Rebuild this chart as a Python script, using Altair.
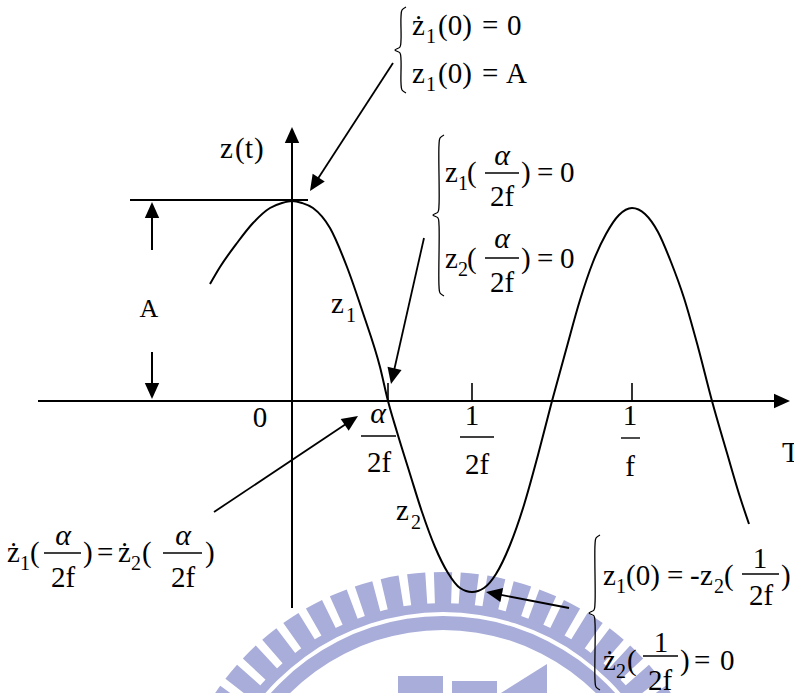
import math
import altair as alt
import pandas as pd

# z(t); t to the right, z upward,
# origin where the two axes cross (A is about 200 units)
curve_t = [-82, -72, -55, -39, -22, -10, 0, 10, 21, 38, 55, 71, 88, 96,
           105, 118, 130, 143, 156, 168, 180, 192, 204, 218, 232, 246, 260,
           274, 288, 301, 314, 327, 340, 353, 366, 379, 392, 406, 420, 435, 448, 457]
curve_z = [117, 134, 158, 178, 193, 198, 200, 198, 193, 173, 134, 88, 34, 0,
           -31, -73, -111, -146, -172, -187, -191, -187, -173, -144, -104, -54, 0,
           51, 101, 139, 167, 186, 193, 187, 169, 139, 103, 54, 0, -52, -96, -123]

# marked instants on the T axis: alpha/2f, 1/2f, 1/f
tick_t = [96, 180, 340]
amplitude = 200

FONT = "Liberation Serif, DejaVu Serif, serif"
MAIN, SUB, GREEK = 29, 20, 30
INK = "black"
WM = "#a9add9"

# sheet layout (x right, y down from the top-left corner) -> drawing units
X0, Y0 = 292, 401


def at(x, y):
    return x - X0, Y0 - y


XS = alt.Scale(domain=[-292, 502], nice=False, zero=False)
YS = alt.Scale(domain=[-292, 401], nice=False, zero=False)


def xy(tf="t", zf="z"):
    return dict(x=alt.X(f"{tf}:Q", scale=XS, axis=None),
                y=alt.Y(f"{zf}:Q", scale=YS, axis=None))


# ---------------- university seal in the background ----------------
cx, cy = at(443, 847)
arcs = []
for k in range(-12, 13):
    c = math.radians(k * 5.6)
    a0, a1 = c - math.radians(1.9), c + math.radians(1.9)
    if a0 < 0:
        a0 += 2 * math.pi
        a1 += 2 * math.pi
    arcs.append(dict(t=cx, z=cy, th=a0, th2=a1, r=275, r2=243))
span = math.radians(72)
arcs.append(dict(t=cx, z=cy, th=2 * math.pi - span, th2=2 * math.pi + span, r=244, r2=235))
arcs.append(dict(t=cx, z=cy, th=2 * math.pi - span, th2=2 * math.pi + span, r=231, r2=217))
arc_df = pd.DataFrame(arcs)

seal_ring = alt.Chart(arc_df).mark_arc(color=WM).encode(
    **xy(),
    theta=alt.Theta("th:Q", scale=None, stack=None), theta2="th2:Q",
    radius=alt.Radius("r:Q", scale=None), radius2="r2:Q",
)

blocks = []
for x1, y1, x2, y2 in [(398, 676, 443, 693), (452, 681, 497, 693)]:
    t1, z1 = at(x1, y1)
    t2, z2 = at(x2, y2)
    blocks.append(dict(t=t1, z=z1, t2=t2, z2=z2))
seal_blocks = alt.Chart(pd.DataFrame(blocks)).mark_rect(color=WM).encode(
    **xy(), x2="t2:Q", y2="z2:Q")

roof = []
for x, y in [(501, 693), (547, 664)]:
    t, z = at(x, y)
    roof.append(dict(t=t, z=z, zb=at(0, 693)[1]))
seal_roof = alt.Chart(pd.DataFrame(roof)).mark_area(color=WM).encode(
    **xy(), y2="zb:Q")

# ---------------- straight strokes ----------------
rules = []


def seg(x1, y1, x2, y2, w):
    t1, z1 = at(x1, y1)
    t2, z2 = at(x2, y2)
    rules.append(dict(t=t1, z=z1, t2=t2, z2=z2, w=w))


# level of A and the tick marks
seg(130, 200, 308, 200, 2.0)
for tt in tick_t:
    rules.append(dict(t=tt, z=0, t2=tt, z2=18, w=1.6))

# fraction bars
for x1, x2, y in [(361, 396, 436), (460, 494, 437), (621, 640, 438),
                  (485, 519, 173), (485, 519, 258), (742, 779, 574),
                  (643, 678, 656), (44, 81, 553), (163, 202, 553)]:
    seg(x1, y, x2, y, 1.4)

# arrows: start -> tip
arrows = [(38, 401, 790, 401, 2.0), (292, 608, 292, 127, 2.0),
          (152, 250, 152, 202, 2.0), (152, 352, 152, 399, 2.0),
          (393, 63, 310, 191, 1.8), (424, 238, 391, 384, 1.8),
          (214, 512, 358, 416, 1.8), (569, 608, 486, 592, 1.8)]
heads = []
for x1, y1, x2, y2, w in arrows:
    dx, dy = x2 - x1, y2 - y1
    n = math.hypot(dx, dy)
    seg(x1, y1, x2 - dx / n * 10, y2 - dy / n * 10, w)
    t, z = at(x2, y2)
    ang = math.degrees(math.atan2(dx, -dy)) % 360
    heads.append(dict(t=t, z=z, ang=ang))

rule_layer = alt.Chart(pd.DataFrame(rules)).mark_rule(color=INK, strokeCap="butt").encode(
    **xy(), x2="t2:Q", y2="z2:Q",
    strokeWidth=alt.StrokeWidth("w:Q", scale=None))

HEAD = "M0,0L-0.45,1L0.45,1Z"
head_layer = alt.Chart(pd.DataFrame(heads)).mark_point(
    shape=HEAD, filled=True, size=1024, color=INK, opacity=1, strokeWidth=0
).encode(**xy(), angle=alt.Angle("ang:Q", scale=None))

# ---------------- braces ----------------
brace_pts = []
for b, (xs, y1, ym, y2) in enumerate([(401, 7, 50, 93), (439, 135, 215, 296),
                                       (595, 535, 613, 690)]):
    pts = [(xs + 5, y1), (xs + 1, y1 + 3), (xs, y1 + 10), (xs, ym - 10),
           (xs - 1, ym - 3), (xs - 6, ym), (xs - 1, ym + 3), (xs, ym + 10),
           (xs, y2 - 10), (xs + 1, y2 - 3), (xs + 5, y2)]
    for o, (x, y) in enumerate(pts):
        t, z = at(x, y)
        brace_pts.append(dict(b=b, o=o, t=t, z=z))
brace_layer = alt.Chart(pd.DataFrame(brace_pts)).mark_line(
    color=INK, strokeWidth=1.3, interpolate="catmull-rom"
).encode(**xy(), detail="b:N", order="o:Q")

# ---------------- the response curve ----------------
curve_layer = alt.Chart(pd.DataFrame({"t": curve_t, "z": curve_z})).mark_line(
    color=INK, strokeWidth=2, interpolate="monotone"
).encode(**xy())

# ---------------- text ----------------
L, C, I = "L", "C", "I"
pieces = [
    # axis names and tick labels
    ("z", 220, 158, MAIN, L), ("(", 235, 158, MAIN, L), ("t", 245, 158, MAIN, L), (")", 254, 158, MAIN, L),
    ("A", 149, 317, 26, C), ("0", 260, 427, MAIN, C),
    ("α", 378, 423, GREEK, I), ("2f", 379, 472, MAIN, C),
    ("1", 472, 425, MAIN, C), ("2f", 477, 474, MAIN, C),
    ("1", 630, 425, MAIN, C), ("f", 630, 476, MAIN, C),
    ("T", 782, 462, MAIN, L),
    # branch names
    ("z", 331, 313, MAIN, L), ("1", 346, 322, SUB, L),
    ("z", 396, 520, MAIN, L), ("2", 411, 529, SUB, L),
    # initial conditions
    ("ż", 412, 35, MAIN, L), ("1", 426, 43, SUB, L), ("(0)", 438, 35, MAIN, L),
    ("=", 482, 35, MAIN, L), ("0", 507, 35, MAIN, L),
    ("z", 412, 83, MAIN, L), ("1", 426, 91, SUB, L), ("(0)", 438, 83, MAIN, L),
    ("=", 482, 83, MAIN, L), ("A", 506, 83, MAIN, L),
    # zero crossing
    ("z", 445, 182, MAIN, L), ("1", 458, 190, SUB, L), ("(", 467, 182, MAIN, L),
    ("α", 502, 165, GREEK, I), ("2f", 502, 206, MAIN, C),
    (")", 521, 182, MAIN, L), ("=", 537, 182, MAIN, L), ("0", 560, 182, MAIN, L),
    ("z", 445, 268, MAIN, L), ("2", 458, 276, SUB, L), ("(", 467, 268, MAIN, L),
    ("α", 502, 248, GREEK, I), ("2f", 502, 292, MAIN, C),
    (")", 521, 268, MAIN, L), ("=", 537, 268, MAIN, L), ("0", 560, 268, MAIN, L),
    # minimum
    ("z", 603, 585, MAIN, L), ("1", 616, 593, SUB, L), ("(0)", 626, 585, MAIN, L),
    ("=", 667, 585, MAIN, L), ("-", 690, 585, MAIN, L), ("z", 700, 585, MAIN, L),
    ("2", 714, 593, SUB, L), ("(", 724, 585, MAIN, L), ("1", 760, 568, MAIN, C), ("2f", 761, 605, MAIN, C),
    (")", 781, 585, MAIN, L),
    ("ż", 603, 670, MAIN, L), ("2", 616, 678, SUB, L), ("(", 627, 670, MAIN, L),
    ("1", 661, 652, MAIN, C), ("2f", 660, 690, MAIN, C),
    (")", 680, 670, MAIN, L), ("=", 694, 670, MAIN, L), ("0", 720, 670, MAIN, L),
    # slope continuity
    ("ż", 7, 562, MAIN, L), ("1", 20, 570, SUB, L), ("(", 30, 562, MAIN, L),
    ("α", 63, 545, GREEK, I), ("2f", 63, 587, MAIN, C), (")", 83, 562, MAIN, L),
    ("=", 97, 562, MAIN, L), ("ż", 118, 562, MAIN, L), ("2", 131, 570, SUB, L), ("(", 142, 562, MAIN, L),
    ("α", 183, 545, GREEK, I), ("2f", 183, 587, MAIN, C), (")", 205, 562, MAIN, L),
]
rows = []
for s, x, y, fs, kind in pieces:
    t, z = at(x, y)
    rows.append(dict(s=s, t=t, z=z, fs=fs, kind=kind))
text_df = pd.DataFrame(rows)


def text_layer(kind, align, italic=False):
    props = dict(align=align, baseline="alphabetic", font=FONT, color=INK)
    if italic:
        props["fontStyle"] = "italic"
    return alt.Chart(text_df[text_df["kind"] == kind]).mark_text(**props).encode(
        **xy(), text="s:N", size=alt.Size("fs:Q", scale=None))


chart = alt.layer(
    seal_ring, seal_blocks, seal_roof,
    rule_layer, brace_layer, curve_layer, head_layer,
    text_layer(L, "left"), text_layer(C, "center"), text_layer(I, "center", True),
).properties(
    width=794, height=693, padding=0, background="white",
    autosize=alt.AutoSizeParams(type="none"),
).configure(font=FONT).configure_text(font=FONT).configure_view(strokeWidth=0)

chart.save("out.html", embed_options={"renderer": "svg", "actions": False})
